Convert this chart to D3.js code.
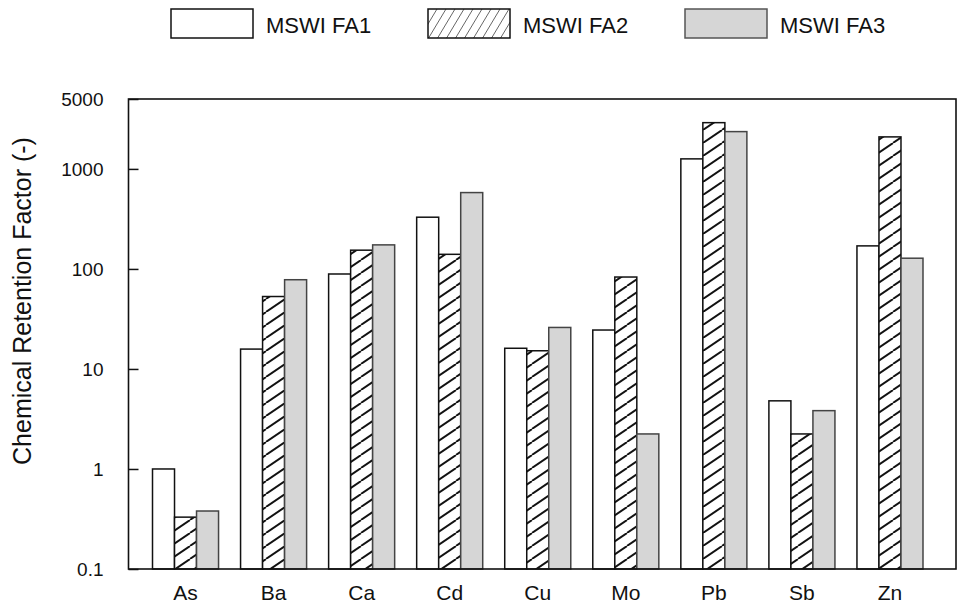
<!DOCTYPE html>
<html>
<head>
  <meta charset="utf-8">
  <title>Chemical Retention Factor</title>
  <style>
    body {
      margin: 0;
      background-color: white;
      font-family: "Liberation Sans", Arial, sans-serif;
    }
    .tick-label {
      font-size: 19px;
      fill: #111;
    }
    .cat-label {
      font-size: 21px;
      fill: #111;
    }
    .legend-text {
      font-size: 22px;
      fill: #111;
    }
    .axis-title {
      font-size: 25px;
      fill: #111;
      text-anchor: middle;
    }
  </style>
  <script src="https://d3js.org/d3.v7.min.js"></script>
</head>
<body>
  <div id="chart"></div>
  <script>
    // Data (log scale)
    const elements = ["As", "Ba", "Ca", "Cd", "Cu", "Mo", "Pb", "Sb", "Zn"];
    const seriesNames = ["MSWI FA1", "MSWI FA2", "MSWI FA3"];
    const fa1 = [1.0, 15.8, 89, 329, 16.1, 24.5, 1260, 4.8, 170];
    const fa2 = [0.33, 53, 154, 140, 15.2, 83, 2900, 2.24, 2090];
    const fa3 = [0.38, 78, 174, 580, 26, 2.24, 2360, 3.83, 128];
    const yTicks = [0.1, 1, 10, 100, 1000, 5000];

    const seriesValues = [fa1, fa2, fa3];
    const fills = ["white", "url(#hatch)", "#d6d6d6"];
    const legendFills = ["white", "url(#hatchLegend)", "#d6d6d6"];

    const width = 962, height = 608;
    const plot = {left: 128.5, right: 956, top: 99, bottom: 569};

    const svg = d3.select("#chart")
      .append("svg")
        .attr("width", width)
        .attr("height", height);

    // Hatch patterns
    const defs = svg.append("defs");

    function addHatch(id, w, h, sw, color) {
      const p = defs.append("pattern")
        .attr("id", id)
        .attr("patternUnits", "userSpaceOnUse")
        .attr("width", w)
        .attr("height", h);
      p.append("rect").attr("width", w).attr("height", h).attr("fill", "white");
      [-w, 0, w].forEach(dx => {
        p.append("line")
          .attr("x1", dx).attr("y1", h)
          .attr("x2", dx + w).attr("y2", 0)
          .attr("stroke", color)
          .attr("stroke-width", sw);
      });
    }
    addHatch("hatch", 19, 13, 1.9, "#111");
    addHatch("hatchLegend", 9, 15, 0.9, "#555");

    // Scales
    const x = d3.scaleBand()
      .domain(elements)
      .range([141.5, 934])
      .paddingInner(0.25)
      .paddingOuter(0.125);

    const xSub = d3.scaleBand()
      .domain(seriesNames)
      .range([0, x.bandwidth()]);

    const y = d3.scaleLog()
      .domain([0.1, 5000])
      .range([plot.bottom, plot.top]);

    // Bars
    seriesNames.forEach((name, si) => {
      svg.append("g")
        .selectAll("rect")
        .data(elements.map((el, i) => ({el: el, v: seriesValues[si][i]})))
        .enter().append("rect")
          .attr("x", d => x(d.el) + xSub(name))
          .attr("y", d => y(d.v))
          .attr("width", xSub.bandwidth())
          .attr("height", d => y(0.1) - y(d.v))
          .attr("fill", fills[si])
          .attr("stroke", si === 2 ? "#444" : "#111")
          .attr("stroke-width", 1.5);
    });

    // Y axis (inward ticks)
    const yAxis = svg.append("g")
      .attr("transform", `translate(${plot.left},0)`)
      .call(d3.axisLeft(y)
        .tickValues(yTicks)
        .tickFormat(d => String(d))
        .tickSizeInner(-10)
        .tickSizeOuter(0)
        .tickPadding(25));
    yAxis.select(".domain").remove();
    yAxis.selectAll("line").attr("stroke", "#111").attr("stroke-width", 1.5);
    yAxis.selectAll("text").attr("class", "tick-label");
    yAxis.attr("font-family", null).attr("font-size", null);

    // X axis labels
    const xAxis = svg.append("g")
      .attr("transform", `translate(0,${plot.bottom})`)
      .call(d3.axisBottom(x).tickSize(0).tickPadding(16));
    xAxis.select(".domain").remove();
    xAxis.attr("font-family", null).attr("font-size", null);
    xAxis.selectAll("text").attr("class", "cat-label");

    // Frame
    svg.append("rect")
      .attr("x", plot.left)
      .attr("y", plot.top)
      .attr("width", plot.right - plot.left)
      .attr("height", plot.bottom - plot.top)
      .attr("fill", "none")
      .attr("stroke", "#111")
      .attr("stroke-width", 1.6);

    // Y axis title
    svg.append("text")
      .attr("class", "axis-title")
      .attr("transform", "translate(31,301) rotate(-90)")
      .text("Chemical Retention Factor (-)");

    // Legend
    const legend = svg.selectAll(".legend")
      .data(seriesNames)
      .enter().append("g")
        .attr("class", "legend")
        .attr("transform", (d, i) => `translate(${171 + i * 257},9)`);

    legend.append("rect")
      .attr("width", 82)
      .attr("height", 29)
      .attr("fill", (d, i) => legendFills[i])
      .attr("stroke", (d, i) => i === 2 ? "#555" : "#111")
      .attr("stroke-width", 1.5);

    legend.append("text")
      .attr("class", "legend-text")
      .attr("x", 95)
      .attr("y", 24)
      .text(d => d);
  </script>
</body>
</html>
